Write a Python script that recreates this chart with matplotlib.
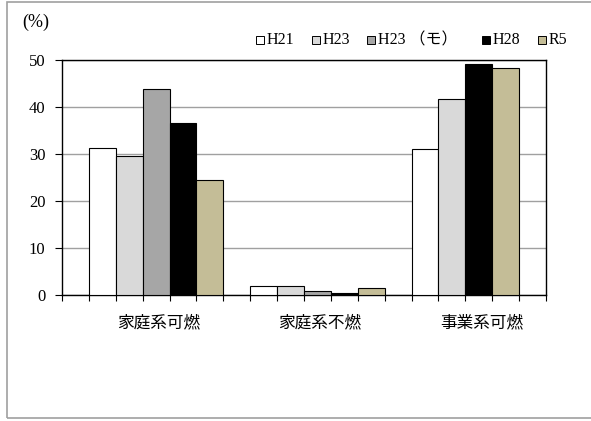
import matplotlib
matplotlib.use('Agg')
import matplotlib.pyplot as plt
from matplotlib.patches import Rectangle

plt.rcParams['font.family'] = ['Liberation Serif', 'Noto Sans CJK JP', 'DejaVu Sans']

categories = ['家庭系可燃', '家庭系不燃', '事業系可燃']
series = ['H21', 'H23', 'H23 （モ）', 'H28', 'R5']
colors = ['#ffffff', '#d9d9d9', '#a6a6a6', '#000000', '#c4bd97']

# None = no bar for that series in that category
values = {
    'H21':      [31.3, 2.0, 31.1],
    'H23':      [29.6, 2.0, 41.7],
    'H23 （モ）': [43.8, 0.8, None],
    'H28':      [36.7, 0.5, 49.1],
    'R5':       [24.5, 1.4, 48.3],
}
yticks = [0, 10, 20, 30, 40, 50]

fig = plt.figure(figsize=(5.91, 4.21), dpi=100)
ax = fig.add_axes([62 / 591, 1 - 295 / 421, 484 / 591, 235 / 421])

slots_per_cat = 6
for ci, cat in enumerate(categories):
    pos = ci * slots_per_cat + 1
    for si, s in enumerate(series):
        v = values[s][ci]
        if v is None:
            continue
        ax.bar(pos, v, width=1, align='edge', color=colors[si],
               edgecolor='black', linewidth=0.8, zorder=3)
        pos += 1
    # label under the group
    ax.text(ci * slots_per_cat + 3.6, -4.0, cat, ha='center', va='top',
            fontsize=12, family=['Noto Sans CJK JP'])

n_slots = slots_per_cat * len(categories)
ax.set_xlim(0, n_slots)
ax.set_ylim(0, 50)
ax.set_xticks(range(n_slots + 1))
ax.set_xticklabels([])
ax.tick_params(axis='x', direction='out', length=4, width=0.8)
ax.set_yticks(yticks)
ax.set_yticklabels([str(t) for t in yticks], fontsize=12)
ax.tick_params(axis='y', direction='out', length=5, width=0.8, pad=7)
ax.yaxis.grid(True, color='#a0a0a0', linewidth=1, zorder=0)
for sp in ax.spines.values():
    sp.set_color('black')
    sp.set_linewidth(1)

fig.text(22 / 591, 1 - 22 / 421, '(%)', fontsize=13, ha='left', va='center')

# legend drawn as a row of small boxes with labels
leg_x = [256, 312, 367, 482, 538]
for si, s in enumerate(series):
    x = leg_x[si] / 591
    y = 1 - 40 / 421
    fig.patches.append(Rectangle((x, y - 4 / 421), 8 / 591, 8 / 421,
                                 transform=fig.transFigure, facecolor=colors[si],
                                 edgecolor='black', linewidth=0.7))
    fig.text(x + 11 / 591, y, s, fontsize=11.5, ha='left', va='center')

# outer frame
fig.patches.append(Rectangle((7 / 591, 1 - 418 / 421), 600 / 591, 416 / 421,
                             transform=fig.transFigure, fill=False,
                             edgecolor='#a0a0a0', linewidth=1.2))

fig.savefig('out.png', dpi=100)
